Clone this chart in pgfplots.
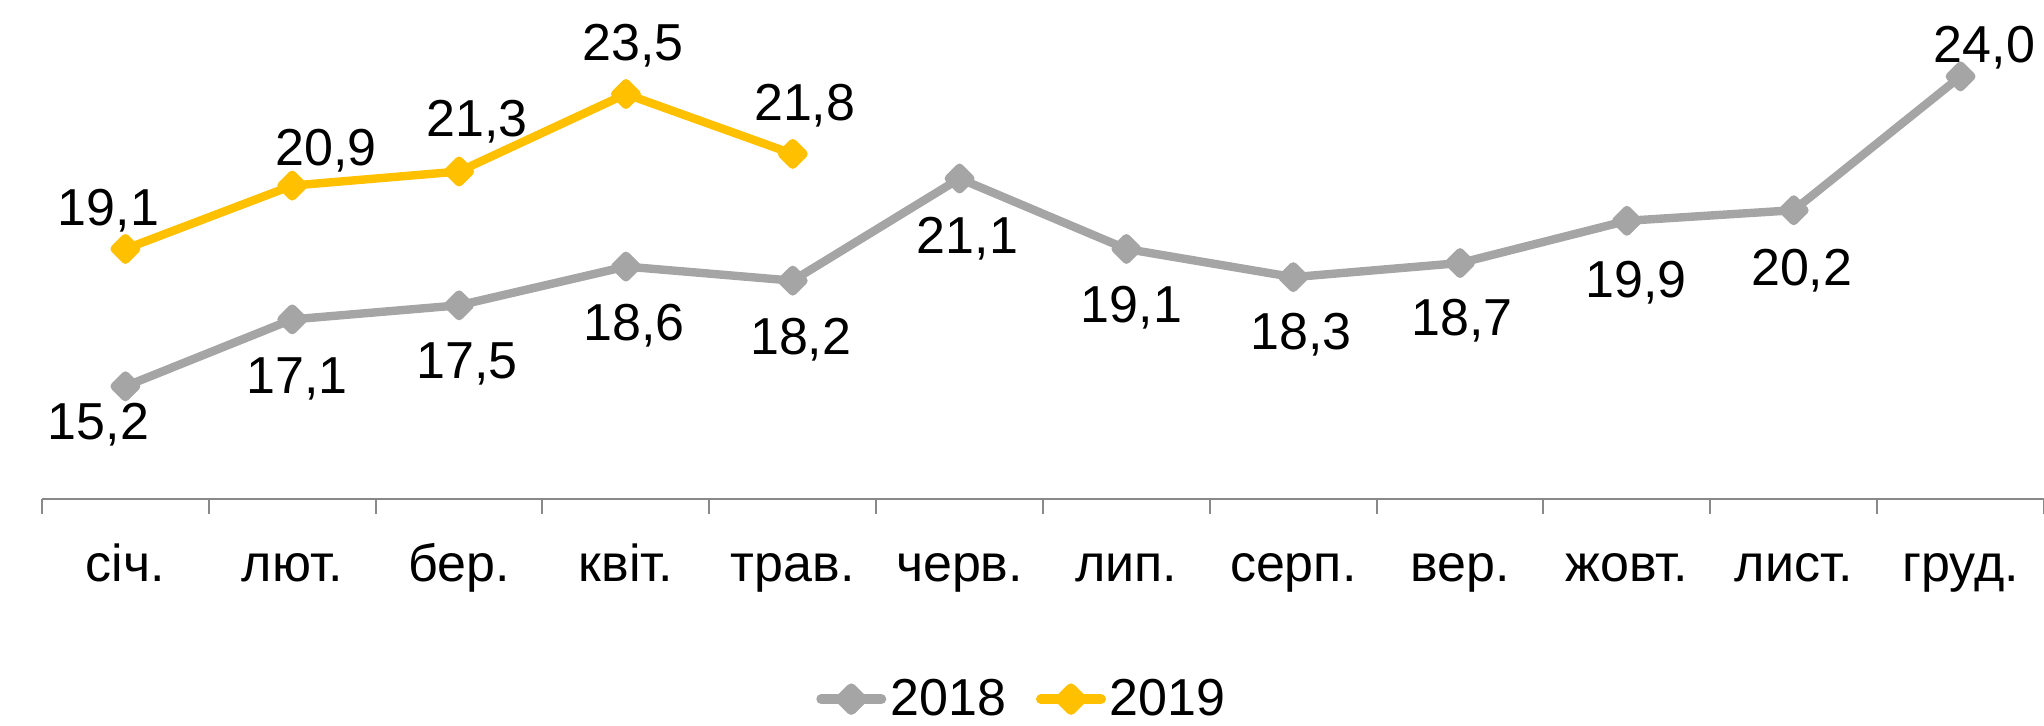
\documentclass[border=0pt]{standalone}
\usepackage{pgfplots}
\pgfplotsset{compat=1.18}
\usepackage{pgfplotstable}
\usepackage{fontspec}
\setmainfont{Liberation Sans}
\definecolor{s18}{HTML}{A5A5A5}
\definecolor{s19}{HTML}{FFC000}
\definecolor{axgray}{HTML}{898989}
\newcommand\fs{\fontsize{26}{31}\selectfont}

\pgfplotstableread{
x y lab dx dy
1 15.2 15,2 -13.5 -26.8
2 17.1 17,1 2.5 -37.3
3 17.5 17,5 4 -36.8
4 18.6 18,6 4 -36.8
5 18.2 18,2 4 -36.8
6 21.1 21,1 4 -37.3
7 19.1 19,1 2.5 -36.8
8 18.3 18,3 4 -36.3
9 18.7 18,7 1 -36.3
10 19.9 19,9 4.5 -38.3
11 20.2 20,2 4 -37.8
12 24.0 24,0 12 7.2
}\tA

\pgfplotstableread{
x y lab dx dy
1 19.1 19,1 -8.5 11.7
2 20.9 20,9 17 10.2
3 21.3 21,3 9 17.7
4 23.5 23,5 3.5 16.7
5 21.8 21,8 6 16.7
}\tB

\pgfplotsset{
  lbl/.style={
    point meta=explicit symbolic, nodes near coords,
    visualization depends on={\thisrow{dx} \as \mydx},
    visualization depends on={\thisrow{dy} \as \mydy},
    nodes near coords style={anchor=base, xshift=\mydx pt, yshift=\mydy pt, font=\fs, text=black}},
}

\begin{document}
\begin{tikzpicture}
\path[use as bounding box] (0,0) rectangle (1022pt,363pt);
\begin{axis}[
  at={(21pt,113.5pt)}, anchor=south west,
  scale only axis, width=1001pt, height=246.5pt,
  xmin=0.5, xmax=12.5, ymin=12, ymax=26,
  axis y line=none, axis x line*=bottom,
  x axis line style={draw=axgray, line width=1pt},
  xtick={1,...,12},
  xticklabels={січ.,лют.,бер.,квіт.,трав.,черв.,лип.,серп.,вер.,жовт.,лист.,груд.},
  major tick length=0pt,
  minor xtick={0.5,1.5,...,12.5},
  minor tick length=7.5pt, tick align=outside,
  minor x tick style={draw=axgray, line width=1pt},
  xticklabel style={anchor=base, yshift=-41.5pt, font=\fs, text=black},
  clip=false,
  legend style={at={(axis description cs:0.49,-0.406)}, anchor=center, draw=none, fill=none,
    font=\fs, legend columns=2, /tikz/every even column/.append style={column sep=13pt}},
  legend image code/.code={\draw[#1, line width=5pt, mark repeat=2, mark phase=2] plot coordinates {(0pt,0pt) (15pt,0pt) (30pt,0pt)};},
  every axis plot/.append style={line width=4.2pt, line cap=round, line join=round,
    mark=square*, mark size=3.8pt},
]
\addplot[color=s18, mark options={rotate=45, draw=none, fill=s18}, lbl] table[x=x, y=y, meta=lab] {\tA};
\addlegendentry{2018}
\addplot[color=s19, mark options={rotate=45, draw=none, fill=s19}, lbl] table[x=x, y=y, meta=lab] {\tB};
\addlegendentry{2019}
\end{axis}
\end{tikzpicture}
\end{document}
